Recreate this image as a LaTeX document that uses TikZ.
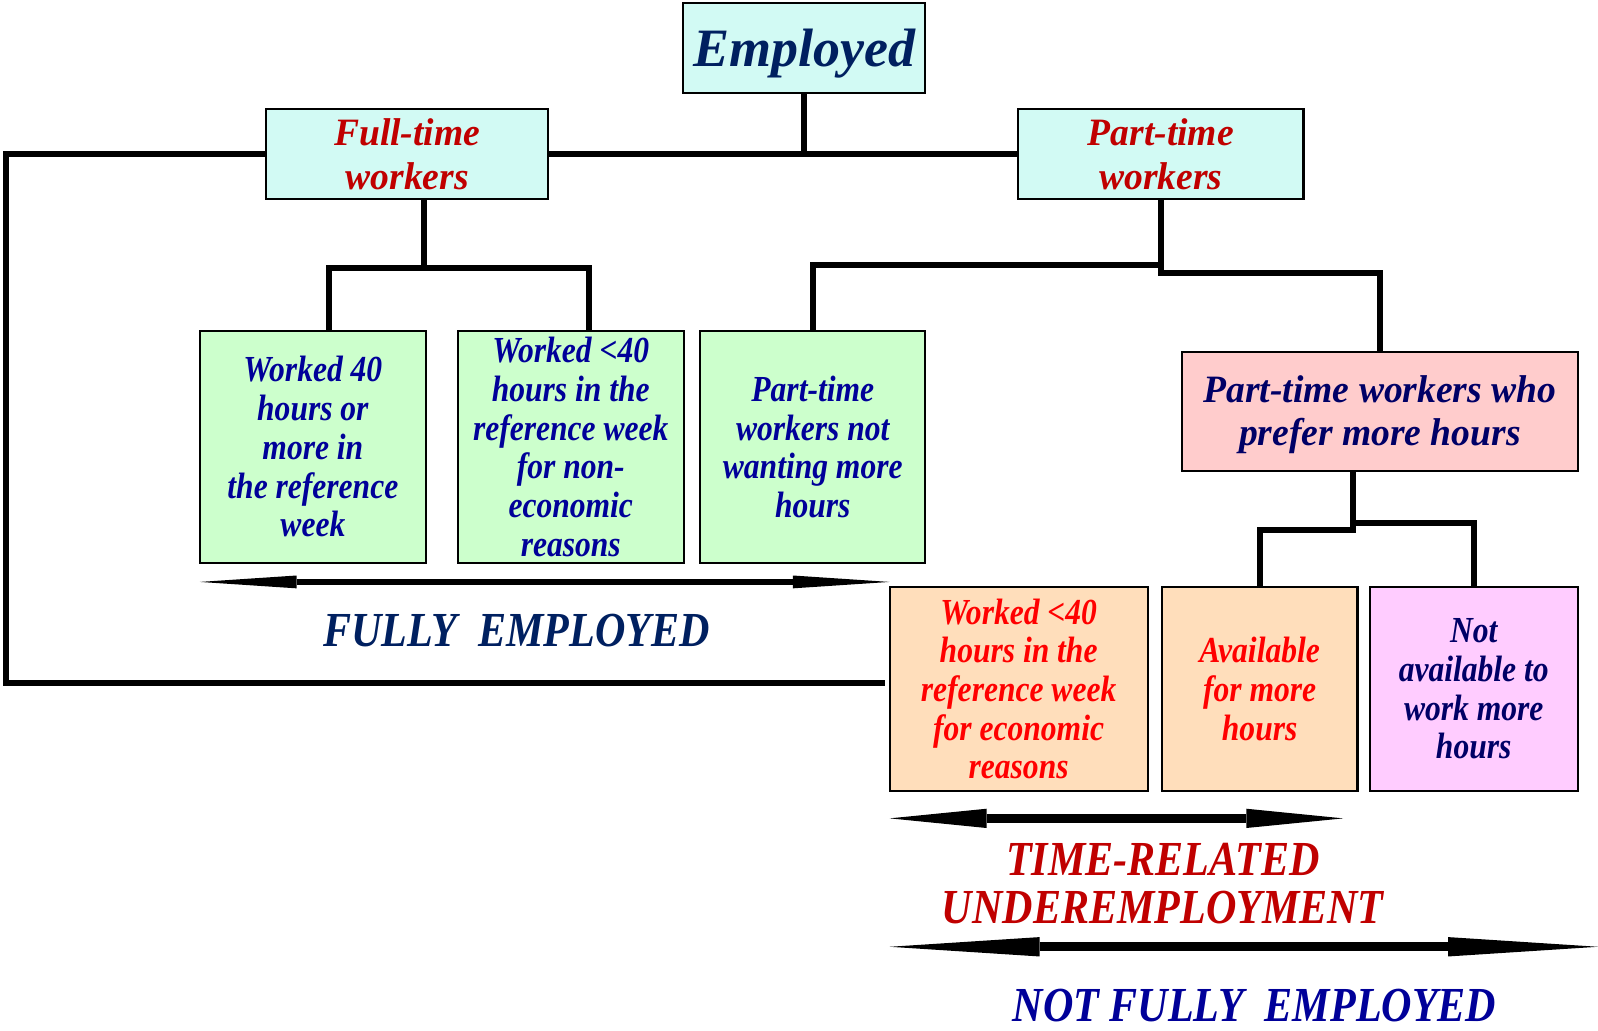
\documentclass[tikz,border=0pt]{standalone}
\usepackage{fontspec}
\setmainfont{Liberation Serif}
\newfontfamily\bxfont{Liberation Serif}[FakeStretch=0.86]
\newfontfamily\hdrfont{Liberation Serif}[FakeStretch=0.97]
\newfontfamily\ttlfont{Liberation Serif}[FakeStretch=0.86]
\usetikzlibrary{arrows.meta}

\definecolor{cyanfill}{HTML}{D2FAF4}
\definecolor{greenfill}{HTML}{CCFFCC}
\definecolor{pinkfill}{HTML}{FFCCCC}
\definecolor{peachfill}{HTML}{FFDEBB}
\definecolor{lilacfill}{HTML}{FFCCFF}
\definecolor{navy}{HTML}{002060}
\definecolor{darkblue}{HTML}{000099}
\definecolor{inkblue}{HTML}{000066}
\definecolor{darkred}{HTML}{C00000}
\definecolor{brightred}{HTML}{FF0000}

\newcommand{\lowerby}[2]{\raisebox{-#1}[0.7em][0.25em]{#2}}

\tikzset{
  box/.style={draw, line width=2pt, inner sep=0pt, align=center},
  conn/.style={line width=6pt},
  bxtext/.style={font=\bxfont\fontsize{36}{38}\selectfont\bfseries\itshape},
  hdrtext/.style={font=\hdrfont\fontsize{38}{43}\selectfont\bfseries\itshape},
  ttl/.style={align=center, font=\ttlfont\fontsize{48}{48}\selectfont\bfseries\itshape},
  shortspan/.style={line width=#1,
    {Triangle[length=95pt,width=2.1*#1,line width=0pt]}-{Triangle[length=95pt,width=2.1*#1,line width=0pt]}},
  longspan/.style={line width=9pt,
    {Triangle[length=147pt,width=19pt,line width=0pt]}-{Triangle[length=147pt,width=19pt,line width=0pt]}}
}

\begin{document}
\begin{tikzpicture}[x=1pt,y=-1pt]
\useasboundingbox (0,0) rectangle (1568,1011);

\node[box, fill=cyanfill, text=navy, minimum width=238pt, minimum height=88pt,
  font=\fontsize{53}{60}\selectfont\bfseries\itshape] (emp) at (789,47) {\lowerby{6pt}{Employed}};
\node[box, hdrtext, fill=cyanfill, text=darkred, minimum width=277pt, minimum height=88pt] (ft) at (399.5,151) {Full-time\\workers};
\node[box, hdrtext, fill=cyanfill, text=darkred, minimum width=280pt, minimum height=88pt] (pt) at (1139,151) {Part-time\\workers};

\node[box, bxtext, fill=greenfill, text=darkblue, minimum width=222pt, minimum height=227pt] (g1) at (307,438.5) {Worked 40\\hours or\\more in\\the reference\\week};
\node[box, bxtext, fill=greenfill, text=darkblue, minimum width=222pt, minimum height=227pt] (g2) at (560,438.5) {Worked <40\\hours in the\\reference week\\for non-\\economic\\reasons};
\node[box, bxtext, fill=greenfill, text=darkblue, minimum width=221pt, minimum height=227pt] (g3) at (797.5,438.5) {Part-time\\workers not\\wanting more\\hours};

\node[box, hdrtext, fill=pinkfill, text=inkblue, minimum width=388pt, minimum height=117pt] (pk) at (1354,403.5) {\lowerby{4pt}{Part-time workers who}\\\lowerby{4pt}{prefer more hours}};

\node[box, bxtext, fill=peachfill, text=brightred, minimum width=253pt, minimum height=200pt] (o1) at (999.5,676) {Worked <40\\hours in the\\reference week\\for economic\\reasons};
\node[box, bxtext, fill=peachfill, text=brightred, minimum width=192pt, minimum height=200pt] (o2) at (1236,676) {Available\\for more\\hours};
\node[box, bxtext, fill=lilacfill, text=inkblue, minimum width=204pt, minimum height=200pt] (mg) at (1446,676) {Not\\available to\\work more\\hours};

\coordinate (ftj) at (416,263);
\coordinate (loopend) at (868,670);
\coordinate (fa) at (196,571);
\coordinate (fb) at (873,571);
\coordinate (ta) at (873,803);
\coordinate (tb) at (1318,803);
\coordinate (na) at (873,929);
\coordinate (nb) at (1568,929);

\draw[conn] (emp.south) -- (emp.south |- ft.east);
\draw[conn] (ft.east) -- (pt.west);
\draw[conn] (ft.west) -- (6,151) -- (6,670) -- (loopend);
\draw[conn] (ft.south -| ftj) -- (ftj);
\draw[conn] (g1.north -| 323,0) |- (ftj) -| (g2.north -| 578,0);
\draw[conn] (pt.south) -- (1139,268) -| (pk.north);
\draw[conn] (1139,260) -| (g3.north);
\draw[conn] (pk.south -| 1328,0) -- (1328,520) -| (o2.north);
\draw[conn] (1328,513) -| (mg.north);

\draw[shortspan=6pt] (fa) -- (fb);
\draw[shortspan=9pt] (ta) -- (tb);
\draw[longspan] (na) -- (nb);

\node[ttl, text=navy] (fe) at (507,619) {FULLY\ \ EMPLOYED};
\node[ttl, text=darkred] (tr) at (1141,867) {TIME-RELATED\\UNDEREMPLOYMENT};
\node[ttl, text=darkblue] (nfe) at (1231,987) {NOT FULLY\ \ EMPLOYED};
\end{tikzpicture}
\end{document}
